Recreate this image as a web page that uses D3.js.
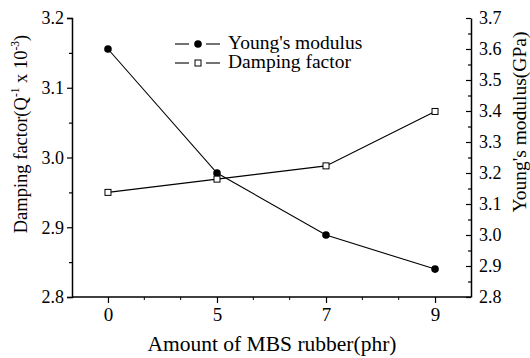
<!DOCTYPE html>
<html><head><meta charset="utf-8">
<script src="https://cdn.jsdelivr.net/npm/d3@7/dist/d3.min.js"></script>
<style>body{margin:0;background:#fff}svg{display:block}</style>
</head><body><svg id="c" width="530" height="358" font-family="Liberation Serif"></svg>
<script>
const categories = ["0","5","7","9"];
const youngsModulus = [3.60, 3.20, 3.00, 2.89];
const dampingFactor = [2.950, 2.969, 2.988, 3.066];
const leftTicks = [2.8, 2.9, 3.0, 3.1, 3.2];
const rightTicks = [2.8, 2.9, 3.0, 3.1, 3.2, 3.3, 3.4, 3.5, 3.6, 3.7];
const FONT = "Liberation Serif";

const svg = d3.select("#c");
const L = 72, R = 471, T = 18, B = 297;
const x = d3.scalePoint().domain(categories).range([L, R]).padding(0.33);
const yL = d3.scaleLinear().domain([2.8, 3.2]).range([B, T]);
const yR = d3.scaleLinear().domain([2.8, 3.7]).range([B, T]);

// Left axis
const gL = svg.append("g").attr("transform", `translate(${L},0)`);
gL.call(d3.axisLeft(yL).tickValues(leftTicks).tickFormat(d3.format(".1f")).tickSize(5).tickPadding(3));
gL.append("g").call(d3.axisLeft(yL).tickValues(d3.range(2.85, 3.2, 0.1)).tickFormat("").tickSize(3)).select(".domain").remove();
// Right axis (ticks pointing inward)
const gR = svg.append("g").attr("transform", `translate(${R},0)`);
gR.call(d3.axisRight(yR).tickValues(rightTicks).tickFormat(d3.format(".1f")).tickSize(0).tickPadding(8));
gR.selectAll(".tick line").attr("x2", -5);
gR.append("g").call(d3.axisRight(yR).tickValues(d3.range(2.85, 3.7, 0.1)).tickFormat("").tickSize(0))
  .call(g => g.select(".domain").remove())
  .selectAll(".tick line").attr("x2", -3);
// Bottom axis
const gB = svg.append("g").attr("transform", `translate(0,${B})`);
gB.call(d3.axisBottom(x).tickSize(6).tickPadding(5).tickSizeOuter(0));
const step = x.step();
const minors = [];
categories.forEach((c, i) => { if (i < categories.length - 1) { minors.push(x(c) + step / 3, x(c) + 2 * step / 3); } });
gB.selectAll(".minor").data(minors).join("line").attr("class", "minor")
  .attr("x1", d => d).attr("x2", d => d).attr("y1", 0).attr("y2", 3).attr("stroke", "#000");
gB.select(".domain").attr("d", `M${L},0H${R}`);

svg.selectAll("g").attr("font-family", FONT);
svg.selectAll(".domain").attr("stroke", "#000").attr("stroke-width", 1.5);
svg.selectAll(".tick line").attr("stroke", "#000").attr("stroke-width", 1.2);
svg.selectAll(".tick text").attr("font-family", FONT).attr("font-size", 18).attr("fill", "#000");
gB.selectAll(".tick text").attr("font-size", 19);

// Lines
const lineY = d3.line().x((d, i) => x(categories[i])).y(d => yR(d));
const lineD = d3.line().x((d, i) => x(categories[i])).y(d => yL(d));
svg.append("path").datum(youngsModulus).attr("d", lineY).attr("fill", "none").attr("stroke", "#000").attr("stroke-width", 1.1);
svg.append("path").datum(dampingFactor).attr("d", lineD).attr("fill", "none").attr("stroke", "#000").attr("stroke-width", 1.1);
svg.selectAll(".dot").data(youngsModulus).join("circle").attr("class", "dot")
  .attr("cx", (d, i) => x(categories[i])).attr("cy", d => yR(d)).attr("r", 3.8).attr("fill", "#000");
svg.selectAll(".sq").data(dampingFactor).join("rect").attr("class", "sq")
  .attr("x", (d, i) => x(categories[i]) - 3).attr("y", d => yL(d) - 3).attr("width", 6).attr("height", 6)
  .attr("fill", "#fff").attr("stroke", "#000").attr("stroke-width", 1);

// Legend
const legend = [{label: "Young's modulus", type: "dot", y: 44}, {label: "Damping factor", type: "sq", y: 63}];
const lg = svg.append("g");
legend.forEach(l => {
  lg.append("line").attr("x1", 175).attr("x2", 189).attr("y1", l.y).attr("y2", l.y).attr("stroke", "#000").attr("stroke-width", 1.1);
  lg.append("line").attr("x1", 206).attr("x2", 220).attr("y1", l.y).attr("y2", l.y).attr("stroke", "#000").attr("stroke-width", 1.1);
  if (l.type === "dot") lg.append("circle").attr("cx", 198).attr("cy", l.y).attr("r", 3.8).attr("fill", "#000");
  else lg.append("rect").attr("x", 195).attr("y", l.y - 3).attr("width", 6).attr("height", 6).attr("fill", "#fff").attr("stroke", "#000");
  lg.append("text").attr("x", 228).attr("y", l.y + 5).attr("font-family", FONT).attr("font-size", 19.5).text(l.label);
});

// Axis titles
svg.append("text").attr("x", 272).attr("y", 351).attr("text-anchor", "middle").attr("font-family", FONT).attr("font-size", 21.5).text("Amount of MBS rubber(phr)");
const tl = svg.append("text").attr("transform", "translate(27,134) rotate(-90)").attr("text-anchor", "middle").attr("font-family", FONT).attr("font-size", 18.5);
tl.append("tspan").text("Damping factor(Q");
tl.append("tspan").attr("dy", -8).attr("font-size", 11.5).text("-1");
tl.append("tspan").attr("dy", 8).text(" x 10");
tl.append("tspan").attr("dy", -8).attr("font-size", 11.5).text("-3");
tl.append("tspan").attr("dy", 8).text(")");
svg.append("text").attr("transform", "translate(526,122) rotate(-90)").attr("text-anchor", "middle").attr("font-family", FONT).attr("font-size", 19.5).text("Young's modulus(GPa)");
</script></body></html>
